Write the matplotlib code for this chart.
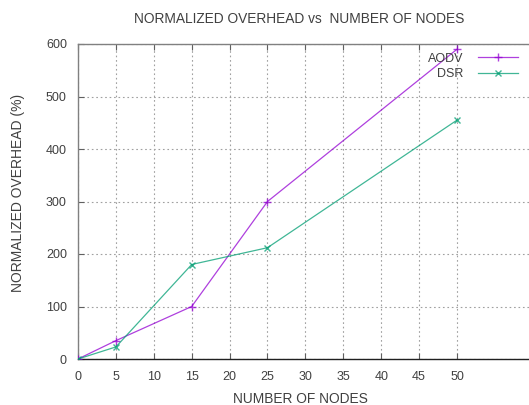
import matplotlib
matplotlib.use("Agg")
import matplotlib.pyplot as plt

nodes = [0, 5, 15, 25, 50]
aodv = [0, 35, 100, 300, 590]
dsr = [0, 23, 180, 212, 455]
x_ticks = [0, 5, 10, 15, 20, 25, 30, 35, 40, 45, 50]
y_ticks = [0, 100, 200, 300, 400, 500, 600]

plt.rcParams["font.family"] = ["Liberation Sans", "DejaVu Sans"]
text_col = "#404040"

fig = plt.figure(figsize=(5.29, 4.05), dpi=100)
ax = fig.add_axes([78 / 529, 1 - 359 / 405, 451 / 529, 315 / 405])

ax.plot(nodes, aodv, color="#9400d3", lw=0.9, alpha=0.75, marker="+",
        ms=6, mew=1.0, label="AODV", zorder=3)
ax.plot(nodes, dsr, color="#009e73", lw=0.9, alpha=0.75, marker="x",
        ms=5, mew=1.0, label="DSR", zorder=3)

ax.set_xlim(0, 59.5)
ax.set_ylim(0, 600)
ax.set_xticks(x_ticks)
ax.set_yticks(y_ticks)
ax.grid(True, color="#a0a0a0", linestyle=(0, (1.5, 2.5)), lw=0.8)
ax.tick_params(direction="in", length=4, width=0.8, colors="#606060",
               labelcolor=text_col, labelsize=9, top=True)
ax.tick_params(axis="x", pad=9)
ax.tick_params(axis="y", pad=8)
for s in ["left", "top"]:
    ax.spines[s].set_color("#808080")
    ax.spines[s].set_linewidth(1.0)
ax.spines["bottom"].set_color("#202020")
ax.spines["bottom"].set_linewidth(1.0)
ax.spines["right"].set_visible(False)

fig.text(299 / 529, 1 - 19 / 405, "NORMALIZED OVERHEAD vs  NUMBER OF NODES",
         ha="center", va="center", fontsize=9.9, color=text_col)
fig.text(300 / 529, 1 - 399 / 405, "NUMBER OF NODES",
         ha="center", va="center", fontsize=9.9, color=text_col)
fig.text(18 / 529, 1 - 193 / 405, "NORMALIZED OVERHEAD (%)", rotation=90,
         ha="center", va="center", fontsize=10, color=text_col)

leg = ax.legend(loc="upper right", bbox_to_anchor=(0.995, 1.0), frameon=False,
                fontsize=9, markerfirst=False, handlelength=3.2,
                handletextpad=1.2, labelspacing=0.25, borderaxespad=0.3)
for t in leg.get_texts():
    t.set_color(text_col)

fig.savefig("out.png", dpi=100)
